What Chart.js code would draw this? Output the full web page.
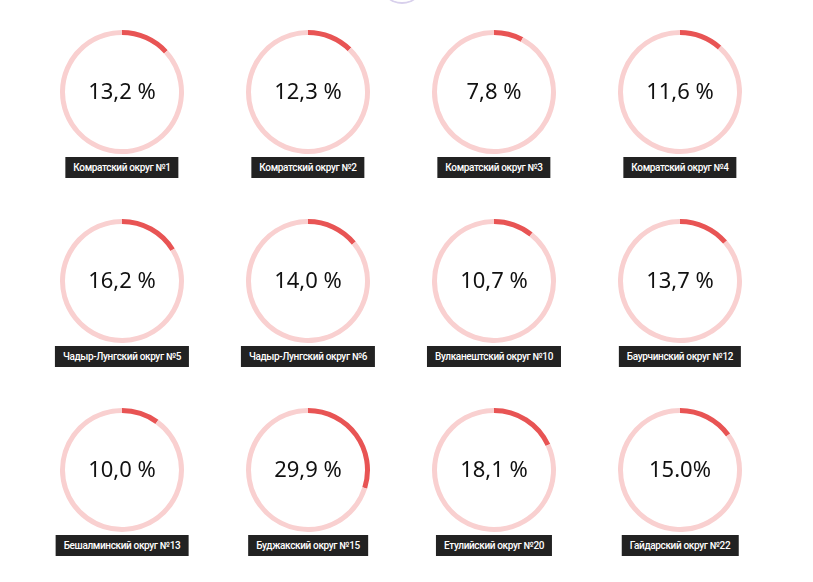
<!DOCTYPE html>
<html>
<head>
<meta charset="utf-8">
<script src="https://cdn.jsdelivr.net/npm/chart.js@4"></script>
<style>
  html, body { margin: 0; padding: 0; background: #fff; }
  body { width: 813px; height: 582px; position: relative; overflow: hidden; font-family: Roboto, "Noto Sans", sans-serif; }
  .cell canvas { position: absolute; }
  .tag {
    position: absolute; background: #222; color: #fff; font-family: Roboto, sans-serif; font-weight: 500;
    font-size: 10px; letter-spacing: -0.35px; line-height: 21px; height: 21px; padding: 0 8px;
    white-space: nowrap; transform: translateX(-50%);
  }
  .topArc { position: absolute; left: 380px; top: -40px; width: 44px; height: 42px; border-radius: 50%; border-bottom: 2px solid #d8d0ec; }
</style>
</head>
<body>
<div class="topArc"></div>
<script>
var districts = [
  'Комратский округ №1', 'Комратский округ №2', 'Комратский округ №3', 'Комратский округ №4',
  'Чадыр-Лунгский округ №5', 'Чадыр-Лунгский округ №6', 'Вулканештский округ №10', 'Баурчинский округ №12',
  'Бешалминский округ №13', 'Буджакский округ №15', 'Етулийский округ №20', 'Гайдарский округ №22'
];
var percents = [13.2, 12.3, 7.8, 11.6, 16.2, 14.0, 10.7, 13.7, 10.0, 29.9, 18.1, 15.0];
var centerTexts = ['13,2 %', '12,3 %', '7,8 %', '11,6 %', '16,2 %', '14,0 %', '10,7 %', '13,7 %', '10,0 %', '29,9 %', '18,1 %', '15.0%'];

var colX = [122, 308, 494, 680];
var rowY = [92, 281, 470];
var size = 130;

var centerText = {
  id: 'centerText',
  afterDraw: function (chart) {
    var c = chart.ctx;
    c.save();
    c.font = '22px "Noto Sans", "Open Sans", sans-serif';
    c.fillStyle = '#111';
    c.textAlign = 'center';
    c.textBaseline = 'middle';
    c.fillText(chart.options.plugins.centerText.text, chart.width / 2, chart.height / 2 + 1);
    c.restore();
  }
};

for (let i = 0; i < districts.length; i++) {
  var cx = colX[i % 4];
  var cy = rowY[Math.floor(i / 4)];
  var cell = document.createElement('div');
  cell.className = 'cell';
  var cv = document.createElement('canvas');
  cv.width = size; cv.height = size;
  cv.style.left = (cx - size / 2) + 'px';
  cv.style.top = (cy - size / 2) + 'px';
  cv.style.width = size + 'px';
  cv.style.height = size + 'px';
  cell.appendChild(cv);
  var tag = document.createElement('div');
  tag.className = 'tag';
  tag.textContent = districts[i];
  tag.style.left = cx + 'px';
  tag.style.top = (cy + 65) + 'px';
  cell.appendChild(tag);
  document.body.appendChild(cell);

  new Chart(cv, {
    type: 'doughnut',
    data: {
      labels: ['value', 'rest'],
      datasets: [{
        data: [percents[i], 100 - percents[i]],
        backgroundColor: ['#e85454', '#f9d0d0'],
        borderWidth: 0
      }]
    },
    options: {
      responsive: false,
      animation: false,
      cutout: 57,
      layout: { padding: 3 },
      plugins: {
        legend: { display: false },
        tooltip: { enabled: false },
        centerText: { text: centerTexts[i] }
      }
    },
    plugins: [centerText]
  });
}
</script>
</body>
</html>
